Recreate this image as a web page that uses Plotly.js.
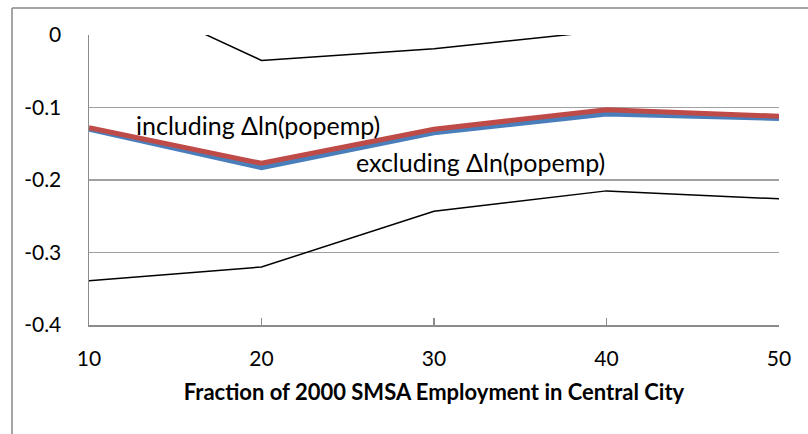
<!DOCTYPE html>
<html>
<head>
<meta charset="utf-8">
<script src="https://cdn.plot.ly/plotly-3.0.1.min.js"></script>
<style>html,body{margin:0;padding:0;background:#fff;}#chart{width:808px;height:434px;}</style>
</head>
<body>
<div id="chart"></div>
<script>
// Data
const xShare = [10, 20, 30, 40, 50];
const including = [-0.128, -0.177, -0.130, -0.103, -0.112];
const excluding = [-0.130, -0.183, -0.135, -0.109, -0.115];
const upperBand = [0.075, -0.035, -0.019, 0.006, 0.008];
const lowerBand = [-0.339, -0.320, -0.243, -0.215, -0.226];
const yTickVals = [0, -0.1, -0.2, -0.3, -0.4];
const yTickText = ['0', '-0.1', '-0.2', '-0.3', '-0.4'];
const xTickVals = [10, 20, 30, 40, 50];
const xTickText = ['10', '20', '30', '40', '50'];
const labelIncluding = 'including \u0394ln(popemp)';
const labelExcluding = 'excluding \u0394ln(popemp)';
const xTitle = 'Fraction of 2000 SMSA Employment in Central City';

const FONT = 'Lato, "Open Sans", sans-serif';

const traces = [
  {x: xShare, y: upperBand, mode: 'lines', line: {color: '#000000', width: 1.5}, hoverinfo: 'skip'},
  {x: xShare, y: lowerBand, mode: 'lines', line: {color: '#000000', width: 1.5}, hoverinfo: 'skip'},
  {x: xShare, y: excluding, mode: 'lines', line: {color: '#4A7EBB', width: 5}, hoverinfo: 'skip'},
  {x: xShare, y: including, mode: 'lines', line: {color: '#BE4B48', width: 5}, hoverinfo: 'skip'}
];

const layout = {
  width: 808, height: 434,
  margin: {l: 89, r: 29, t: 35, b: 109},
  paper_bgcolor: '#ffffff', plot_bgcolor: '#ffffff',
  showlegend: false,
  font: {family: FONT, size: 21, color: '#000000'},
  xaxis: {
    range: [10, 50], tickmode: 'array', tickvals: xTickVals, ticktext: xTickText,
    showgrid: false, zeroline: false,
    showline: true, linecolor: '#8c8c8c', linewidth: 1.5,
    ticks: 'inside', ticklen: 7, tickcolor: '#8c8c8c', tickwidth: 1.5,
    ticklabelstandoff: 14,
    tickfont: {family: FONT, size: 21, color: '#000000'},
    title: {text: xTitle, font: {family: FONT, size: 22, color: '#000000', weight: 'bold'}, standoff: 16}
  },
  yaxis: {
    range: [-0.4, 0], tickmode: 'array', tickvals: yTickVals, ticktext: yTickText,
    showgrid: true, gridcolor: '#a0a0a0', gridwidth: 1.2, zeroline: false,
    showline: true, linecolor: '#8c8c8c', linewidth: 1.5,
    ticks: '', ticklabelstandoff: 22,
    tickfont: {family: FONT, size: 21, color: '#000000'}
  },
  annotations: [
    {x: 12.6, y: -0.124, xref: 'x', yref: 'y', text: labelIncluding, showarrow: false,
     xanchor: 'left', yanchor: 'middle', font: {family: FONT, size: 25, color: '#000000'}},
    {x: 25.36, y: -0.175, xref: 'x', yref: 'y', text: labelExcluding, showarrow: false,
     xanchor: 'left', yanchor: 'middle', font: {family: FONT, size: 25, color: '#000000'}}
  ],
  shapes: [
    {type: 'line', xref: 'paper', yref: 'paper', x0: -0.1116, x1: 1.1, y0: 1.0931, y1: 1.0931,
     line: {color: '#888888', width: 1.5}, layer: 'above'},
    {type: 'line', xref: 'paper', yref: 'paper', x0: -0.1116, x1: -0.1116, y0: -0.4, y1: 1.0931,
     line: {color: '#888888', width: 1.5}, layer: 'above'}
  ]
};

Plotly.newPlot('chart', traces, layout, {staticPlot: true, displayModeBar: false});
</script>
</body>
</html>
